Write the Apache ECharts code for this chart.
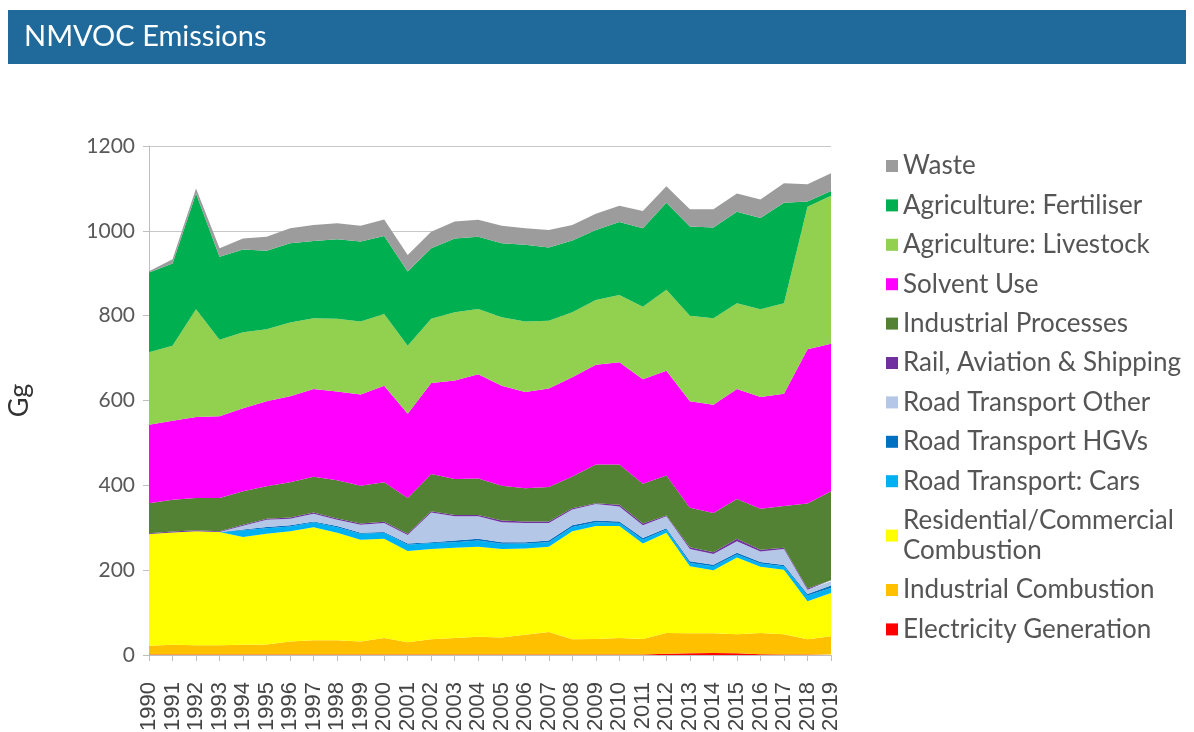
<!DOCTYPE html>
<html>
<head>
<meta charset="utf-8">
<title>NMVOC Emissions</title>
<script src="https://cdn.jsdelivr.net/npm/echarts@6/dist/echarts.min.js"></script>
<style>
  html, body { margin: 0; padding: 0; background: #fff; }
  #chart { width: 1194px; height: 732px; }
</style>
</head>
<body>
<div id="chart"></div>
<script>
const years = ['1990','1991','1992','1993','1994','1995','1996','1997','1998','1999',
  '2000','2001','2002','2003','2004','2005','2006','2007','2008','2009',
  '2010','2011','2012','2013','2014','2015','2016','2017','2018','2019'];

// Gg per year
const electricity = [1,1,1,1,1,1,1,1,1,1, 1,1,1,1,1,1,1,1,1,1, 1,1,3,4,5,4,2,1,1,1];
const industrialComb = [21,23,22,22,23,24,31,34,34,31, 39,29,36,39,42,40,47,53,36,37, 39,37,49,47,46,45,50,48,36,43];
const residential = [263,265,269,267,254,261,260,266,253,240, 234,215,213,213,212,209,203,201,255,266, 264,225,236,158,149,181,156,152,90,102];
const cars = [0,0,0,0,16,13,11,12,13,14, 14,15,14,13,15,12,12,11,10,9, 7,9,8,8,9,7,8,8,13,12];
const hgvs = [0,0,0,0,2,3,3,2,3,2, 2,3,2,4,4,4,3,4,4,4, 4,4,3,4,4,4,3,3,4,6];
const roadOther = [0,0,0,0,9,17,15,18,15,19, 21,20,70,57,53,47,45,41,37,39, 35,30,28,29,25,27,25,38,10,10];
const railAvShip = [2,2,2,2,2,2,3,3,3,3, 3,3,3,3,3,4,4,4,3,2, 4,4,2,4,4,6,4,3,3,2];
const industrialProc = [71,75,76,78,79,77,83,84,90,89, 93,84,88,85,86,82,78,81,75,91, 95,94,94,93,93,94,97,98,200,210];
const solvent = [185,186,191,193,196,200,203,207,209,215, 228,199,214,232,246,236,227,232,234,235, 241,246,247,251,255,259,263,265,364,348];
const livestock = [171,177,254,180,179,170,174,167,172,172, 169,160,152,161,154,161,166,160,153,153, 159,171,191,202,204,202,207,213,336,349];
const fertiliser = [188,194,273,196,195,185,187,182,187,189, 184,175,166,174,170,175,181,173,169,165, 172,185,205,210,214,216,215,237,12,11];
const waste = [3,10,12,20,26,33,35,38,38,37, 39,39,39,40,40,41,39,41,37,38, 38,41,39,41,43,43,44,46,41,42];

const seriesDefs = [
  ['Electricity Generation', electricity, '#ff0000'],
  ['Industrial Combustion', industrialComb, '#ffc000'],
  ['Residential/Commercial Combustion', residential, '#ffff00'],
  ['Road Transport: Cars', cars, '#00b0f0'],
  ['Road Transport HGVs', hgvs, '#0070c0'],
  ['Road Transport Other', roadOther, '#b4c7e7'],
  ['Rail, Aviation & Shipping', railAvShip, '#7030a0'],
  ['Industrial Processes', industrialProc, '#548235'],
  ['Solvent Use', solvent, '#ff00ff'],
  ['Agriculture: Livestock', livestock, '#92d050'],
  ['Agriculture: Fertiliser', fertiliser, '#00b050'],
  ['Waste', waste, '#9c9c9c']
];

const chart = echarts.init(document.getElementById('chart'));
const font = 'Lato, "Noto Sans", sans-serif';

chart.setOption({
  animation: false,
  textStyle: { fontFamily: font },
  graphic: [{
    type: 'rect',
    shape: { x: 8, y: 10, width: 1178, height: 54 },
    style: { fill: '#1f6a9a' },
    z: 0
  }],
  title: {
    text: 'NMVOC Emissions',
    left: 19,
    top: 17,
    textStyle: { color: '#fff', fontSize: 29, fontWeight: 'normal', fontFamily: font }
  },
  legend: {
    orient: 'vertical',
    left: 881,
    top: 146,
    itemWidth: 12,
    itemHeight: 12,
    itemGap: 9.4,
    icon: 'rect',
    data: seriesDefs.map(s => s[0]).reverse(),
    formatter: name => name === 'Residential/Commercial Combustion' ? 'Residential/Commercial\nCombustion' : name,
    textStyle: { color: '#555', fontSize: 26, lineHeight: 30, fontFamily: font }
  },
  grid: { left: 149, right: 363, top: 146, bottom: 77, outerBoundsMode: 'none', containLabel: false },
  xAxis: {
    type: 'category',
    data: years,
    boundaryGap: false,
    axisLine: { lineStyle: { color: '#bfbfbf' } },
    axisTick: { show: true, length: 6, lineStyle: { color: '#bfbfbf' } },
    axisLabel: { rotate: 90, color: '#444', fontSize: 22, margin: 27, interval: 0, hideOverlap: false, fontFamily: '"Liberation Sans", Arial, sans-serif' }
  },
  yAxis: {
    type: 'value',
    min: 0,
    max: 1200,
    interval: 200,
    name: 'Gg',
    nameLocation: 'middle',
    nameGap: 116,
    nameTextStyle: { color: '#333', fontSize: 27, fontFamily: font },
    axisLine: { show: true, lineStyle: { color: '#bfbfbf' } },
    axisTick: { show: true, length: 6, lineStyle: { color: '#bfbfbf' } },
    axisLabel: { color: '#595959', fontSize: 21, margin: 14, fontFamily: font, formatter: v => String(v) },
    splitLine: { lineStyle: { color: '#c8c8c8' } }
  },
  series: seriesDefs.map(([name, values, color]) => ({
    name,
    type: 'line',
    stack: 'total',
    data: values,
    symbol: 'none',
    lineStyle: { width: 0 },
    areaStyle: { color, opacity: 1 },
    itemStyle: { color }
  }))
});
</script>
</body>
</html>
